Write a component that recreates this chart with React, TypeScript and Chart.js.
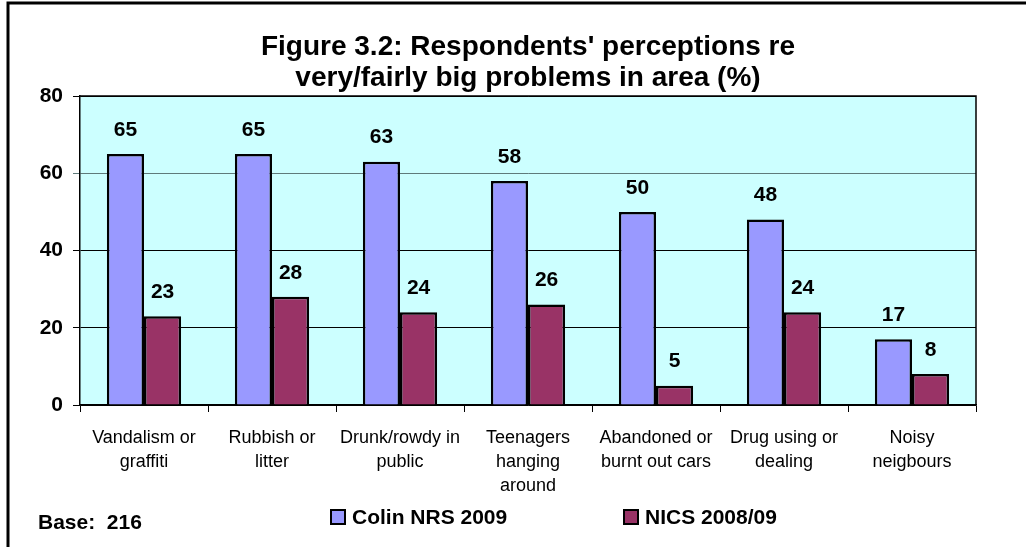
import React, { useEffect, useRef } from "react";
import { Chart, registerables } from "chart.js";

Chart.register(...registerables);

const categories: string[][] = [
  ["Vandalism or", "graffiti"],
  ["Rubbish or", "litter"],
  ["Drunk/rowdy in", "public"],
  ["Teenagers", "hanging", "around"],
  ["Abandoned or", "burnt out cars"],
  ["Drug using or", "dealing"],
  ["Noisy", "neigbours"],
];
const colinValues = [65, 65, 63, 58, 50, 48, 17];
const nicsValues = [23, 28, 24, 26, 5, 24, 8];
const seriesNames = ["Colin NRS 2009", "NICS 2008/09"];
const titleLines = ["Figure 3.2: Respondents' perceptions re", "very/fairly big problems in area (%)"];
const baseNote = "Base:  216";
const yMin = 0;
const yMax = 80;
const yStep = 20;

const FONT = "'Liberation Sans', Arial, Helvetica, sans-serif";
const BLUE = "#9999FF";
const RED = "#993366";

const decorPlugin = {
  id: "decor",
  beforeDraw(chart: any) {
    const { ctx, chartArea: a } = chart;
    ctx.save();
    ctx.fillStyle = "#FFFFFF";
    ctx.fillRect(0, 0, chart.width, chart.height);
    ctx.fillStyle = "#CCFFFF";
    ctx.fillRect(a.left, a.top, a.right - a.left, a.bottom - a.top);
    ctx.restore();
  },
  beforeDatasetsDraw(chart: any) {
    const { ctx, chartArea: a } = chart;
    ctx.save();
    ctx.strokeStyle = "#000";
    ctx.lineWidth = 1.5;
    ctx.beginPath();
    ctx.moveTo(a.left, a.top);
    ctx.lineTo(a.right, a.top);
    ctx.lineTo(a.right, a.bottom);
    ctx.stroke();
    ctx.restore();
  },
  afterDatasetsDraw(chart: any) {
    const { ctx } = chart;
    ctx.save();
    ctx.fillStyle = "#000";
    ctx.font = `bold 21px ${FONT}`;
    ctx.textAlign = "center";
    ctx.textBaseline = "middle";
    chart.data.datasets.forEach((ds: any, i: number) => {
      const meta = chart.getDatasetMeta(i);
      meta.data.forEach((bar: any, j: number) => {
        ctx.fillText(String(ds.data[j]), bar.x, bar.y - 24);
      });
    });
    ctx.restore();
  },
  afterDraw(chart: any) {
    const { ctx, chartArea: a } = chart;
    ctx.save();
    // outer frame (top + left)
    ctx.strokeStyle = "#000";
    ctx.lineWidth = 3;
    ctx.beginPath();
    ctx.moveTo(8, chart.height);
    ctx.lineTo(8, 3);
    ctx.lineTo(chart.width, 3);
    ctx.stroke();
    // title
    ctx.fillStyle = "#000";
    ctx.font = `bold 28px ${FONT}`;
    ctx.textAlign = "center";
    ctx.textBaseline = "middle";
    const cx = (a.left + a.right) / 2;
    ctx.fillText(titleLines[0], cx, 47);
    ctx.fillText(titleLines[1], cx, 78);
    // base note
    ctx.textAlign = "left";
    ctx.font = `bold 21px ${FONT}`;
    ctx.fillText(baseNote, 38, 523);
    // legend
    const items = [
      { x: 331, color: BLUE, label: seriesNames[0] },
      { x: 624, color: RED, label: seriesNames[1] },
    ];
    items.forEach((it) => {
      ctx.fillStyle = it.color;
      ctx.fillRect(it.x, 510, 14, 14);
      ctx.strokeStyle = "#000";
      ctx.lineWidth = 2;
      ctx.strokeRect(it.x, 510, 14, 14);
      ctx.fillStyle = "#000";
      ctx.font = `bold 21px ${FONT}`;
      ctx.fillText(it.label, it.x + 21, 518);
    });
    ctx.restore();
  },
};

export default function App() {
  const ref = useRef<HTMLCanvasElement | null>(null);
  useEffect(() => {
    if (!ref.current) return;
    const chart = new Chart(ref.current, {
      type: "bar",
      data: {
        labels: categories,
        datasets: [
          {
            label: seriesNames[0],
            data: colinValues,
            backgroundColor: BLUE,
            borderColor: "#000",
            borderWidth: 2.5,
            categoryPercentage: 0.58,
            barPercentage: 1,
          },
          {
            label: seriesNames[1],
            data: nicsValues,
            backgroundColor: RED,
            borderColor: "#000",
            borderWidth: 2.5,
            categoryPercentage: 0.58,
            barPercentage: 1,
          },
        ],
      },
      options: {
        animation: false,
        responsive: false,
        maintainAspectRatio: false,
        layout: { padding: { top: 96, right: 50, left: 0, bottom: 0 } },
        plugins: {
          legend: { display: false },
          title: { display: false },
          tooltip: { enabled: false },
        },
        scales: {
          x: {
            afterFit(scale: any) {
              scale.height = 142;
            },
            grid: {
              drawOnChartArea: false,
              drawTicks: true,
              tickLength: 7,
              color: "#000",
              lineWidth: 1,
            },
            border: { display: true, color: "#000", width: 1.5 },
            ticks: {
              color: "#000",
              font: { family: FONT, size: 18, lineHeight: 1.33 },
              padding: 14,
              maxRotation: 0,
              autoSkip: false,
            },
          },
          y: {
            min: yMin,
            max: yMax,
            afterFit(scale: any) {
              scale.width = 80;
            },
            grid: {
              color: (c: any) => (c.tick && c.tick.value === 60 ? "#5f7a7a" : "#000"),
              lineWidth: 1,
              tickLength: 7,
              drawTicks: true,
            },
            border: { display: true, color: "#000", width: 1.5 },
            ticks: {
              stepSize: yStep,
              color: "#000",
              font: { family: FONT, size: 21, weight: "bold" },
              padding: 10,
            },
          },
        },
      },
      plugins: [decorPlugin],
    } as any);
    return () => chart.destroy();
  }, []);
  return (
    <div style={{ position: "fixed", left: 0, top: 0, width: 1026, height: 547, background: "#fff" }}>
      <canvas ref={ref} width={1026} height={547} style={{ display: "block", width: 1026, height: 547 }} />
    </div>
  );
}
